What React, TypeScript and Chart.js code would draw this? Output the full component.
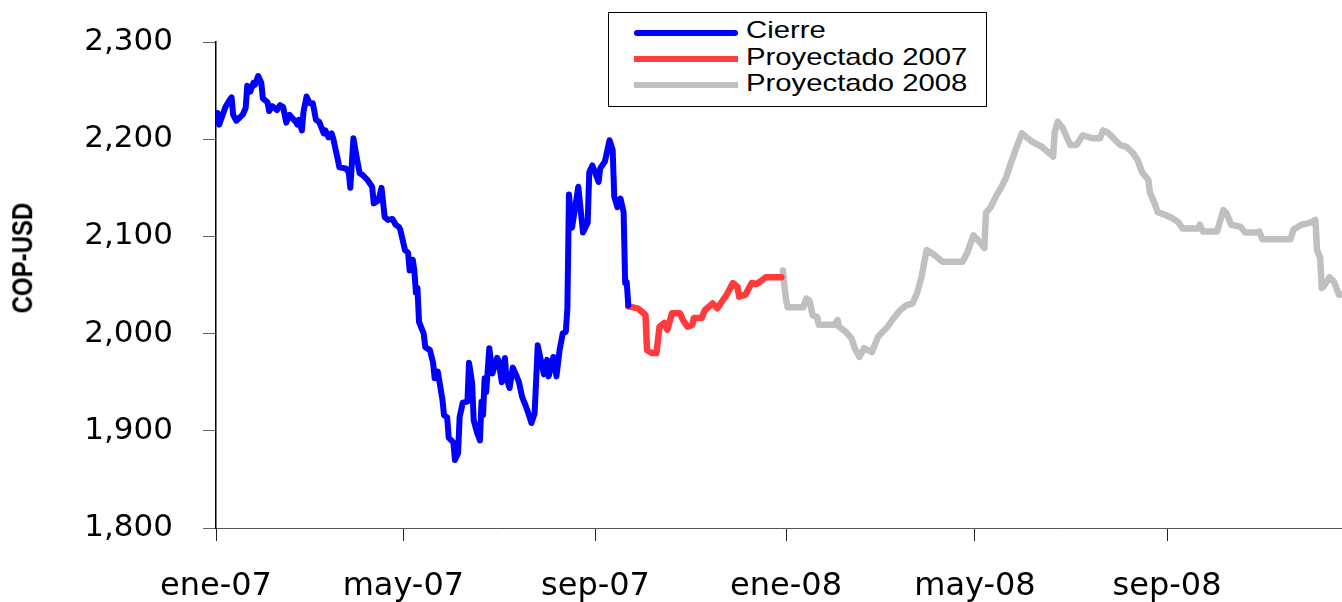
import { useEffect, useRef } from "react";
import { Chart, registerables } from "chart.js";

Chart.register(...registerables);

// x positions are days since 1 Jan 2007
const tickDays = [0, 120, 243, 365, 486, 609];
const tickLabels = ["ene-07", "may-07", "sep-07", "ene-08", "may-08", "sep-08"];
const yTicks = [1800, 1900, 2000, 2100, 2200, 2300];

const cierreDays = [
  1, 2, 6, 9, 10, 11, 13, 17, 19, 20, 22, 24, 25, 27, 29, 30, 33, 34, 36, 39, 41, 43, 45, 47, 51, 52, 53, 55, 56, 58,
  60, 62, 64, 66, 69, 70, 72, 74, 75, 78, 79, 83, 85, 86, 88, 90, 92, 94, 97, 100, 101, 104, 106, 108, 110, 113, 115,
  117, 118, 121, 123, 124, 126, 127, 128, 129, 130, 133, 134, 137, 139, 140, 142, 145, 146, 148, 149, 152, 153, 155,
  156, 158, 161, 162, 164, 165, 167, 169, 170, 171, 172, 173, 175, 177, 180, 181, 183, 185, 186, 188, 190, 192, 194,
  196, 198, 200, 202, 204, 205, 206, 207, 210, 212, 213, 216, 218, 220, 222, 224, 225, 226, 228, 232, 235, 238, 239,
  241, 245, 246, 249, 252, 254, 255, 257, 259, 261, 262, 263, 264,
];
const cierreValues = [
  2227, 2215, 2233, 2241, 2243, 2225, 2219, 2225, 2232, 2255, 2249, 2258, 2256, 2265, 2258, 2242, 2238, 2229, 2234,
  2230, 2235, 2233, 2217, 2225, 2218, 2215, 2220, 2209, 2228, 2244, 2237, 2237, 2220, 2218, 2206, 2209, 2202, 2206,
  2201, 2179, 2171, 2170, 2166, 2150, 2201, 2182, 2165, 2163, 2158, 2151, 2134, 2137, 2150, 2120, 2117, 2118, 2112,
  2110, 2107, 2086, 2083, 2065, 2076, 2065, 2042, 2047, 2012, 2000, 1986, 1983, 1970, 1954, 1961, 1932, 1916, 1914,
  1893, 1888, 1870, 1877, 1914, 1929, 1930, 1970, 1949, 1911, 1899, 1890, 1930, 1916, 1954, 1940, 1985, 1959, 1975,
  1972, 1950, 1975, 1954, 1944, 1965, 1958, 1950, 1935, 1927, 1918, 1908, 1918, 1952, 1988, 1980, 1958, 1973, 1956,
  1976, 1956, 1983, 2000, 2002, 2026, 2143, 2109, 2151, 2104, 2114, 2166, 2173, 2156, 2170, 2177, 2199, 2189, 2141,
  2130, 2139, 2125, 2052, 2053, 2029,
];

const proy2007Days = [
  264, 270, 273, 275, 276, 279, 282, 284, 287, 289, 292, 297, 299, 302, 305, 306, 311, 313, 318, 321, 324, 327, 331,
  334, 335, 339, 343, 346, 348, 352, 356, 362,
];
const proy2007Values = [
  2028, 2026, 2022, 2019, 1983, 1980, 1980, 2007, 2011, 2004, 2021, 2021, 2014, 2007, 2009, 2016, 2016, 2024, 2031,
  2026, 2033, 2040, 2052, 2048, 2038, 2040, 2052, 2051, 2053, 2058, 2058, 2058,
];

const proy2008Days = [
  363, 364, 365, 366, 376, 378, 380, 382, 385, 386, 396, 398, 399, 403, 407, 409, 412, 415, 420, 424, 430, 433, 438,
  442, 446, 449, 452, 455, 460, 465, 478, 481, 485, 488, 492, 493, 496, 500, 503, 506, 508, 512, 516, 519, 523, 529,
  536, 537, 539, 542, 547, 551, 555, 561, 566, 568, 571, 574, 579, 583, 587, 590, 593, 597, 598, 601, 603, 608, 612,
  616, 619, 629, 630, 632, 641, 645, 647, 650, 656, 659, 667, 668, 670, 688, 690, 695, 698, 702, 704, 705, 707, 708,
  709, 713, 716, 719, 725,
];
const proy2008Values = [
  2065, 2048, 2035, 2027, 2027, 2036, 2034, 2019, 2017, 2009, 2009, 2014, 2007, 2002, 1995, 1985, 1976, 1985, 1981,
  1997, 2007, 2014, 2024, 2029, 2031, 2042, 2060, 2086, 2081, 2074, 2074, 2083, 2101, 2096, 2088, 2124, 2130, 2143,
  2151, 2161, 2171, 2189, 2206, 2202, 2197, 2192, 2182, 2207, 2218, 2212, 2194, 2194, 2204, 2201, 2201, 2209, 2207,
  2202, 2194, 2192, 2186, 2179, 2166, 2158, 2145, 2134, 2125, 2122, 2119, 2115, 2108, 2108, 2112, 2105, 2105, 2127,
  2124, 2112, 2110, 2104, 2104, 2105, 2097, 2097, 2107, 2112, 2113, 2115, 2117, 2086, 2078, 2047, 2048, 2058, 2053,
  2040, 2040,
];

const seriesNames = ["Cierre", "Proyectado 2007", "Proyectado 2008"];
const seriesColors = ["#0000ff", "#ff3b3b", "#c0c0c0"];

const toPoints = (xs: number[], ys: number[]) => xs.map((x, i) => ({ x, y: ys[i] }));

const TICK_FONT = { family: "'DejaVu Sans', sans-serif", size: 31 };
const X_TICK_FONT = { family: "'DejaVu Sans', sans-serif", size: 32 };

export default function App() {
  const ref = useRef<HTMLCanvasElement>(null);

  useEffect(() => {
    const canvas = ref.current;
    if (!canvas) return;
    const chart = new Chart(canvas, {
      type: "line",
      data: {
        datasets: [
          { label: seriesNames[0], data: toPoints(cierreDays, cierreValues) },
          { label: seriesNames[1], data: toPoints(proy2007Days, proy2007Values) },
          { label: seriesNames[2], data: toPoints(proy2008Days, proy2008Values) },
        ].map((d, i) => ({
          ...d,
          borderColor: seriesColors[i],
          backgroundColor: seriesColors[i],
          borderWidth: i === 0 ? 6 : 6.5,
          pointRadius: 0,
          tension: 0,
          fill: false,
          borderJoinStyle: "round" as const,
          borderCapStyle: "round" as const,
        })),
      },
      options: {
        responsive: false,
        animation: false,
        layout: { padding: { top: 42, left: 0, right: 0, bottom: 0 } },
        plugins: { legend: { display: false }, tooltip: { enabled: false }, title: { display: false } },
        scales: {
          x: {
            type: "linear",
            min: 0,
            max: 721,
            afterBuildTicks: (scale: any) => {
              scale.ticks = tickDays.map((v) => ({ value: v }));
            },
            afterFit: (scale: any) => {
              scale.height = 74;
              scale.paddingLeft = 0;
              scale.paddingRight = 0;
            },
            ticks: {
              autoSkip: false,
              maxRotation: 0,
              minRotation: 0,
              padding: 26,
              color: "#000",
              font: X_TICK_FONT,
              callback: (value: any) => {
                const i = tickDays.indexOf(Number(value));
                return i >= 0 ? tickLabels[i] : "";
              },
            },
            grid: {
              display: true,
              drawOnChartArea: false,
              drawTicks: true,
              tickLength: 13,
              color: "#222",
            },
            border: { display: true, color: "#555", width: 1 },
          },
          y: {
            type: "linear",
            min: 1800,
            max: 2300,
            afterBuildTicks: (scale: any) => {
              scale.ticks = yTicks.map((v) => ({ value: v }));
            },
            afterFit: (scale: any) => {
              scale.width = 216;
              scale.paddingTop = 0;
              scale.paddingBottom = 0;
            },
            ticks: {
              padding: 30,
              color: "#000",
              font: TICK_FONT,
              callback: (value: any) => Number(value).toLocaleString("en-US"),
            },
            grid: {
              display: true,
              drawOnChartArea: false,
              drawTicks: true,
              tickLength: 13,
              color: "#666",
            },
            border: { display: true, color: "#000", width: 1.5 },
          },
        },
      },
    });
    return () => chart.destroy();
  }, []);

  const legendRows = [19.7, 46, 72];

  return (
    <div
      style={{
        position: "absolute",
        left: 0,
        top: 0,
        width: 1342,
        height: 602,
        background: "#fff",
        overflow: "hidden",
      }}
    >
      <canvas ref={ref} width={1342} height={602} style={{ display: "block" }} />
      <div
        style={{
          position: "absolute",
          left: 23,
          top: 258,
          transform: "translate(-50%, -50%) rotate(-90deg) scale(1, 1.2)",
          fontFamily: "'Liberation Sans', Arial, sans-serif",
          fontWeight: "bold",
          fontSize: 24,
          whiteSpace: "nowrap",
          color: "#000",
          lineHeight: 1,
        }}
      >
        COP-USD
      </div>
      <div
        style={{
          position: "absolute",
          left: 608,
          top: 12,
          width: 379,
          height: 95,
          boxSizing: "border-box",
          border: "1px solid #000",
          background: "#fff",
        }}
      >
        {seriesNames.map((name, i) => (
          <div key={name}>
            <div
              style={{
                position: "absolute",
                left: 25,
                top: legendRows[i] - 3,
                width: 104,
                height: 6,
                borderRadius: i === 0 ? 3 : 0,
                background: seriesColors[i],
              }}
            />
            <div
              style={{
                position: "absolute",
                left: 137,
                top: legendRows[i] - 2.5,
                transform: "translateY(-50%) scaleX(1.22)",
                transformOrigin: "left center",
                fontFamily: "'Liberation Sans', Arial, sans-serif",
                fontSize: 24,
                lineHeight: 1,
                whiteSpace: "nowrap",
                color: "#000",
              }}
            >
              {name}
            </div>
          </div>
        ))}
      </div>
    </div>
  );
}
